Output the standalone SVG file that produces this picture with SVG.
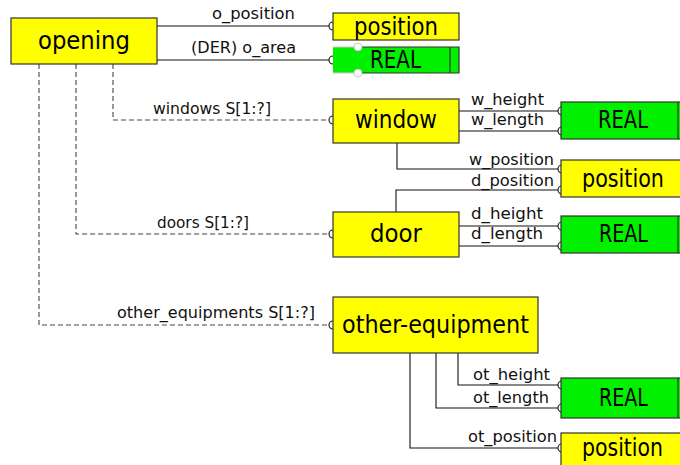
<svg xmlns="http://www.w3.org/2000/svg" width="680" height="465" viewBox="0 0 680 465">
<style>
.ent{fill:#ffff00;stroke:#333;stroke-width:1.2}
.typ{fill:#00f000;stroke:#333;stroke-width:1.2}
.bt{font-family:"DejaVu Sans","Liberation Sans",sans-serif;font-size:25px;fill:#000}
.lb{font-family:"DejaVu Sans","Liberation Sans",sans-serif;font-size:16px;fill:#111}
.rel{fill:none;stroke:#111;stroke-width:1.1}
.agg{fill:none;stroke:#444;stroke-width:1.1;stroke-dasharray:5 3}
.end{fill:none;stroke:#111;stroke-width:1.1}
</style>
<rect width="680" height="465" fill="#fff"/>
<g id="connectors">
<path class="rel" d="M157,26H329"/><circle class="end" cx="333" cy="26" r="4"/>
<path class="rel" d="M157,60H329"/><circle class="end" cx="333" cy="60" r="4"/>
<path class="agg" d="M113,64V120H329"/><circle class="end" cx="333" cy="120" r="4"/>
<path class="agg" d="M76,64V234H329"/><circle class="end" cx="333" cy="234" r="4"/>
<path class="agg" d="M39,64V325H329"/><circle class="end" cx="333" cy="325" r="4"/>
<path class="rel" d="M459,111H558"/><circle class="end" cx="562" cy="111" r="4"/>
<path class="rel" d="M459,131H558"/><circle class="end" cx="562" cy="131" r="4"/>
<path class="rel" d="M397,143V169H558"/><circle class="end" cx="562" cy="169" r="4"/>
<path class="rel" d="M396,212V190H558"/><circle class="end" cx="562" cy="190" r="4"/>
<path class="rel" d="M459,226H558"/><circle class="end" cx="562" cy="226" r="4"/>
<path class="rel" d="M459,246H558"/><circle class="end" cx="562" cy="246" r="4"/>
<path class="rel" d="M458,353V385H558"/><circle class="end" cx="562" cy="385" r="4"/>
<path class="rel" d="M436,353V408H558"/><circle class="end" cx="562" cy="408" r="4"/>
<path class="rel" d="M410,353V448H558"/><circle class="end" cx="562" cy="448" r="4"/>
<text class="lb" x="212" y="19" textLength="83" lengthAdjust="spacingAndGlyphs">o_position</text>
<text class="lb" x="191" y="53" textLength="105" lengthAdjust="spacingAndGlyphs">(DER) o_area</text>
<text class="lb" x="153" y="114" textLength="118" lengthAdjust="spacingAndGlyphs">windows S[1:?]</text>
<text class="lb" x="157" y="228" textLength="92" lengthAdjust="spacingAndGlyphs">doors S[1:?]</text>
<text class="lb" x="117" y="318" textLength="198" lengthAdjust="spacingAndGlyphs">other_equipments S[1:?]</text>
<text class="lb" x="471" y="105" textLength="73" lengthAdjust="spacingAndGlyphs">w_height</text>
<text class="lb" x="471" y="125" textLength="73" lengthAdjust="spacingAndGlyphs">w_length</text>
<text class="lb" x="469" y="165" textLength="85" lengthAdjust="spacingAndGlyphs">w_position</text>
<text class="lb" x="471" y="186" textLength="83" lengthAdjust="spacingAndGlyphs">d_position</text>
<text class="lb" x="471" y="219" textLength="72" lengthAdjust="spacingAndGlyphs">d_height</text>
<text class="lb" x="471" y="239" textLength="72" lengthAdjust="spacingAndGlyphs">d_length</text>
<text class="lb" x="473" y="380" textLength="77" lengthAdjust="spacingAndGlyphs">ot_height</text>
<text class="lb" x="473" y="403" textLength="76" lengthAdjust="spacingAndGlyphs">ot_length</text>
<text class="lb" x="468" y="442" textLength="89" lengthAdjust="spacingAndGlyphs">ot_position</text>
</g>
<g id="opening">
<rect class="ent" x="11" y="18" width="146" height="46"/>
<text class="bt" x="38" y="49" textLength="92" lengthAdjust="spacingAndGlyphs">opening</text>
</g>
<g id="position-1">
<rect class="ent" x="333" y="13" width="126" height="27"/>
<text class="bt" x="354" y="35" textLength="84" lengthAdjust="spacingAndGlyphs">position</text>
</g>
<g id="real-1">
<rect x="333" y="47" width="126" height="26" fill="#00f000"/>
<path d="M362,47H459V73H362M450,47V73" fill="none" stroke="#333" stroke-width="1.2"/>
<path d="M333,47H354M333,73H354" stroke="#ccc" stroke-width="1.2"/>
<circle cx="358" cy="47" r="4" fill="#fff" stroke="#bbb" stroke-width="0.8"/>
<circle cx="358" cy="73" r="4" fill="#fff" stroke="#bbb" stroke-width="0.8"/>
<text class="bt" x="370" y="68" textLength="51" lengthAdjust="spacingAndGlyphs">REAL</text>
</g>
<g id="window">
<rect class="ent" x="333" y="99" width="126" height="44"/>
<text class="bt" x="355" y="128" textLength="82" lengthAdjust="spacingAndGlyphs">window</text>
</g>
<g id="real-2">
<rect class="typ" x="561" y="102" width="126" height="37"/>
<path d="M678,102V139" stroke="#333" stroke-width="1.2"/>
<text class="bt" x="598" y="128" textLength="50" lengthAdjust="spacingAndGlyphs">REAL</text>
</g>
<g id="position-2">
<rect class="ent" x="561" y="160" width="126" height="37"/>
<text class="bt" x="582" y="187" textLength="82" lengthAdjust="spacingAndGlyphs">position</text>
</g>
<g id="door">
<rect class="ent" x="333" y="212" width="126" height="45"/>
<text class="bt" x="370" y="242" textLength="52" lengthAdjust="spacingAndGlyphs">door</text>
</g>
<g id="real-3">
<rect class="typ" x="561" y="216" width="126" height="37"/>
<path d="M678,216V253" stroke="#333" stroke-width="1.2"/>
<text class="bt" x="599" y="242" textLength="49" lengthAdjust="spacingAndGlyphs">REAL</text>
</g>
<g id="other-equipment">
<rect class="ent" x="333" y="297" width="205" height="56"/>
<text class="bt" x="342" y="333" textLength="187" lengthAdjust="spacingAndGlyphs">other-equipment</text>
</g>
<g id="real-4">
<rect class="typ" x="561" y="378" width="126" height="40"/>
<path d="M678,378V418" stroke="#333" stroke-width="1.2"/>
<text class="bt" x="599" y="406" textLength="49" lengthAdjust="spacingAndGlyphs">REAL</text>
</g>
<g id="position-4">
<rect class="ent" x="561" y="433" width="126" height="37"/>
<text class="bt" x="582" y="456" textLength="81" lengthAdjust="spacingAndGlyphs">position</text>
</g>
</svg>
